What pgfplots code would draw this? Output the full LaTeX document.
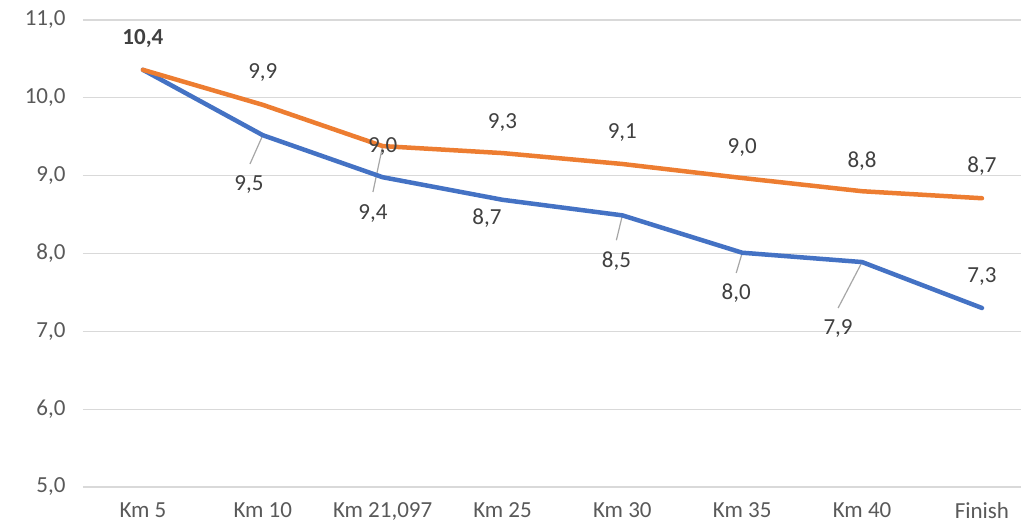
\documentclass[border=0pt]{standalone}
\usepackage{fontspec}
\setmainfont{Carlito}
\usepackage{pgfplots}
\pgfplotsset{compat=1.18}
\definecolor{cblue}{HTML}{4472C4}
\definecolor{corange}{HTML}{ED7D31}
\definecolor{cgrid}{HTML}{D9D9D9}
\definecolor{ctick}{HTML}{595959}
\definecolor{clabel}{HTML}{404040}
\definecolor{cleader}{HTML}{A6A6A6}
\tikzset{lbl/.style={text=clabel, inner sep=0pt, font=\fontsize{23}{27}\selectfont}}
\begin{document}
\begin{tikzpicture}[x=1pt,y=1pt]
\useasboundingbox (0,0) rectangle (1021,530);
\begin{axis}[at={(83pt,43pt)}, anchor=south west, scale only axis,
  width=938pt, height=467pt,
  xmin=-0.5, xmax=7.326, ymin=5, ymax=11,
  ytick={5,6,7,8,9,10,11},
  xtick={0,1,2,3,4,5,6,7},
  xticklabels={Km 5, Km 10, {Km 21,097}, Km 25, Km 30, Km 35, Km 40, Finish},
  ymajorgrids, grid style={cgrid, line width=1.3pt},
  axis line style={draw=none}, major tick length=0pt,
  tick label style={font=\fontsize{23}{27}\selectfont, text=ctick},
  yticklabel style={xshift=-14pt},
  xticklabel style={yshift=-12pt},
  /pgf/number format/fixed, /pgf/number format/fixed zerofill,
  /pgf/number format/precision=1, /pgf/number format/use comma,
  /pgf/number format/assume math mode=true,
  clip=false,
]
% leader lines
\draw[cleader, line width=1.2pt] (axis cs:1,9.52) -- (axis cs:0.893,9.15);
\draw[cleader, line width=1.2pt] (axis cs:2,9.38) -- (axis cs:1.919,8.79);
\draw[cleader, line width=1.2pt] (axis cs:4,8.49) -- (axis cs:3.95,8.17);
\draw[cleader, line width=1.2pt] (axis cs:5,8.01) -- (axis cs:4.95,7.75);
\draw[cleader, line width=1.2pt] (axis cs:6,7.89) -- (axis cs:5.80,7.30);
% series
\addplot[cblue, line width=4.5pt, line cap=round, line join=round] coordinates {
(0,10.36)(1,9.52)(2,8.98)(3,8.69)(4,8.49)(5,8.01)(6,7.89)(7,7.30)};
\addplot[corange, line width=4.5pt, line cap=round, line join=round] coordinates {
(0,10.36)(1,9.91)(2,9.38)(3,9.29)(4,9.15)(5,8.97)(6,8.80)(7,8.71)};
% data labels
\node[lbl, font=\fontsize{23}{27}\selectfont\bfseries] at (axis cs:0,10.756) {10,4};
\node[lbl] at (axis cs:1,10.32) {9,9};
\node[lbl] at (axis cs:0.885,8.88) {9,5};
\node[lbl] at (axis cs:2,9.37) {9,0};
\node[lbl] at (axis cs:1.919,8.52) {9,4};
\node[lbl] at (axis cs:3,9.68) {9,3};
\node[lbl] at (axis cs:2.87,8.46) {8,7};
\node[lbl] at (axis cs:4,9.55) {9,1};
\node[lbl] at (axis cs:3.95,7.90) {8,5};
\node[lbl] at (axis cs:5,9.36) {9,0};
\node[lbl] at (axis cs:4.95,7.49) {8,0};
\node[lbl] at (axis cs:6,9.19) {8,8};
\node[lbl] at (axis cs:5.80,7.03) {7,9};
\node[lbl] at (axis cs:7,9.12) {8,7};
\node[lbl] at (axis cs:7,7.70) {7,3};
\end{axis}
\end{tikzpicture}
\end{document}
